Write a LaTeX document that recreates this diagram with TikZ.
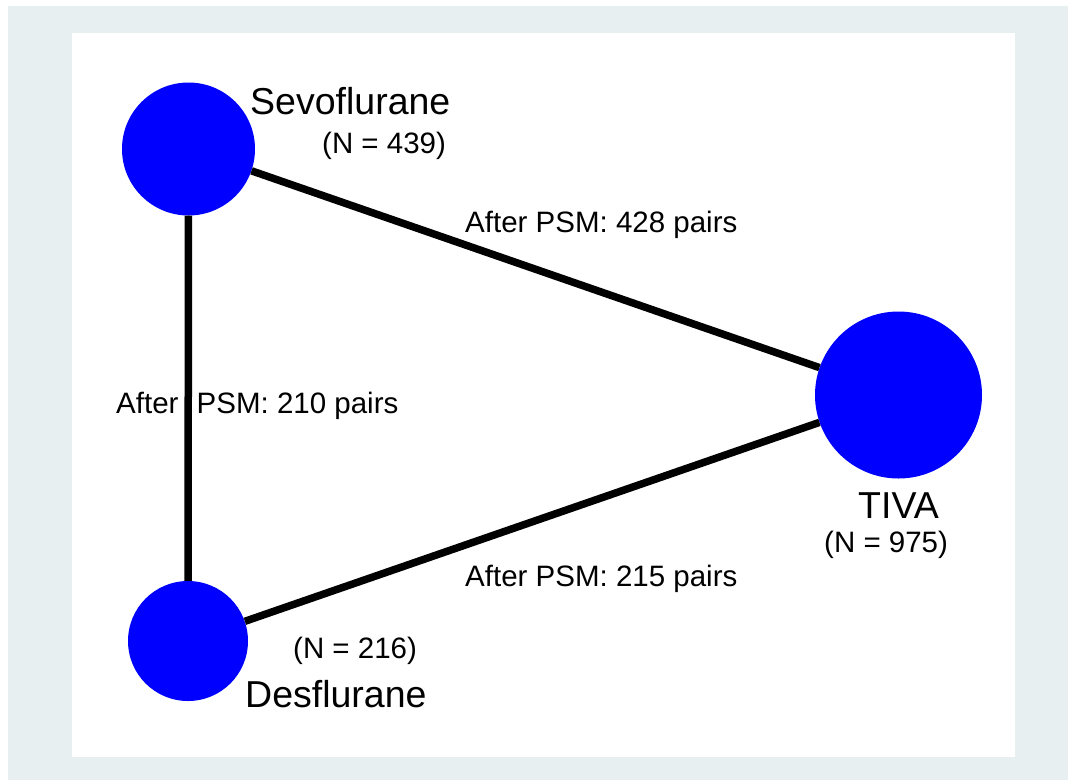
\documentclass[tikz,border=0pt]{standalone}
\usepackage{fontspec}
\setmainfont{Liberation Sans}
\definecolor{outerbg}{HTML}{E8EFF1}
\definecolor{nodeblue}{HTML}{0000FF}
\begin{document}
\begin{tikzpicture}[x=1pt,y=-1pt,
  treat/.style={circle, fill=nodeblue, draw=none, inner sep=0pt},
  edge/.style={line width=7.5pt, black},
  bigtxt/.style={inner sep=0pt, font=\fontsize{37.5}{40}\selectfont},
  smalltxt/.style={inner sep=0pt, font=\fontsize{29.5}{32}\selectfont}]
\useasboundingbox (0,0) rectangle (1068,780);
\fill[white] (0,0) rectangle (1068,780);
\fill[outerbg] (8,6) rectangle (1068,780);
\fill[white] (72,33) rectangle (1015,757);
% nodes
\node[treat, minimum size=133pt] (sevo) at (188.5,149) {};
\node[treat, minimum size=167pt] (tiva) at (898.5,395) {};
\node[treat, minimum size=120pt] (des) at (188,641) {};
% edges
\draw[edge] (sevo) -- (tiva);
\draw[edge] (sevo) -- (des);
\draw[edge] (des) -- (tiva);
% labels
\node[bigtxt, anchor=base west] (lsevo) at (250,114) {Sevoflurane};
\node[smalltxt, anchor=base west] (nsevo) at (322,153) {(N = 439)};
\node[bigtxt, anchor=base west] (ltiva) at (858,518) {TIVA};
\node[smalltxt, anchor=base west] (ntiva) at (824,552) {(N = 975)};
\node[bigtxt, anchor=base west] (ldes) at (245,707) {Desflurane};
\node[smalltxt, anchor=base west] (ndes) at (293,658) {(N = 216)};
\node[smalltxt, anchor=base west] (e1) at (465,232) {After PSM: 428 pairs};
\node[smalltxt, anchor=base west] (e2) at (116,413) {After\hspace{10pt} PSM: 210 pairs};
\node[smalltxt, anchor=base west] (e3) at (465,586) {After PSM: 215 pairs};
\end{tikzpicture}
\end{document}
